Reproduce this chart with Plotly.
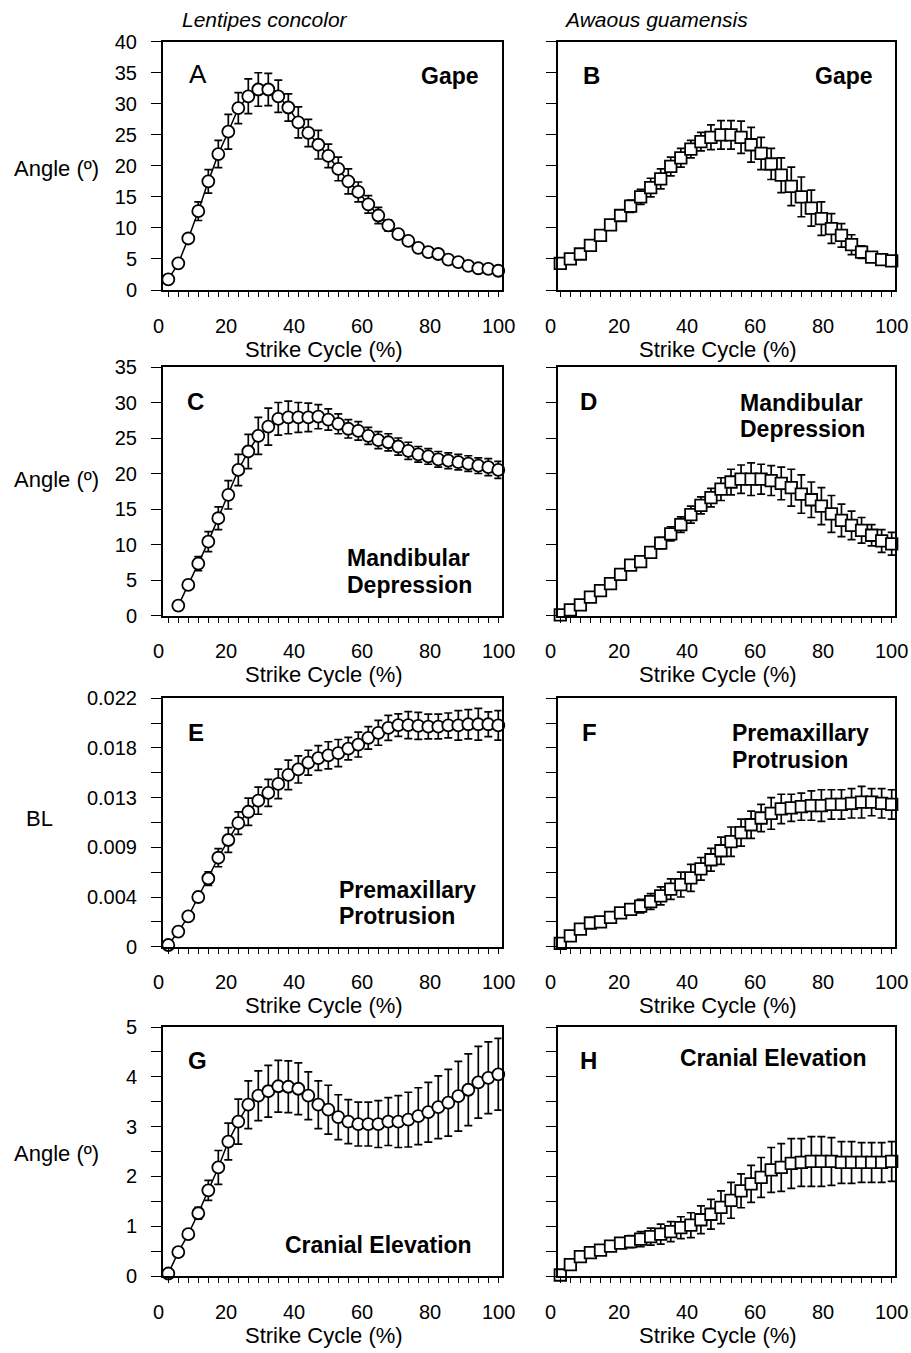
import plotly.graph_objects as go

# ---------------- data ----------------
N = 34
strike_cycle = [round((i + 1) * 100 / N, 2) for i in range(N)]

gape_lentipes = [1.7, 4.3, 8.3, 12.7, 17.5, 21.9, 25.5, 29.3, 31.2, 32.3, 32.3, 31.2, 29.4, 27.0, 25.3,
                 23.4, 21.6, 19.5, 17.5, 15.8, 13.8, 12.0, 10.4, 9.0, 7.9, 6.8, 6.1, 5.8, 4.9, 4.5,
                 3.9, 3.5, 3.4, 3.1]
gape_lentipes_se = [0.3, 0.5, 0.6, 1.5, 1.9, 2.2, 2.8, 2.5, 2.8, 2.7, 2.6, 2.6, 2.2, 2.5, 2.2,
                    2.3, 1.9, 1.9, 2.0, 1.6, 1.4, 1.3, 0.9, 0.7, 0.6, 0.5, 0.4, 0.4, 0.4, 0.4,
                    0.4, 0.4, 0.4, 0.4]
gape_awaous = [4.3, 5.0, 5.8, 7.2, 8.8, 10.5, 12.0, 13.5, 15.0, 16.5, 17.9, 19.9, 21.3, 22.7, 23.9,
               24.6, 25.0, 25.0, 24.6, 23.4, 22.0, 20.3, 18.5, 16.7, 15.0, 13.2, 11.5, 9.9, 8.8, 7.3,
               6.1, 5.3, 4.9, 4.7]
gape_awaous_se = [0.4, 0.4, 0.4, 0.4, 0.4, 0.5, 0.7, 1.0, 1.2, 1.5, 1.6, 1.5, 1.5, 1.4, 1.5,
                  2.0, 2.3, 2.3, 2.6, 2.8, 2.6, 2.5, 2.8, 3.1, 3.2, 2.9, 2.7, 2.4, 1.9, 1.6,
                  1.0, 0.7, 0.5, 0.5]

mand_lentipes = [None, 1.4, 4.3, 7.3, 10.4, 13.7, 17.0, 20.5, 23.1, 25.3, 26.6, 27.7, 27.9, 27.9, 27.9,
                 28.0, 27.6, 27.0, 26.3, 26.0, 25.3, 24.7, 24.4, 23.8, 23.2, 22.7, 22.4, 22.0, 21.8, 21.6,
                 21.4, 21.1, 20.9, 20.5]
mand_lentipes_se = [0.0, 0.4, 0.6, 1.0, 1.4, 1.6, 2.0, 2.2, 2.4, 2.6, 2.6, 2.3, 2.3, 2.1, 2.0,
                    1.7, 1.5, 1.4, 1.3, 1.3, 1.2, 1.2, 1.2, 1.2, 1.2, 1.1, 1.1, 1.1, 1.1, 1.1,
                    1.1, 1.1, 1.2, 1.2]
mand_awaous = [0.1, 0.8, 1.5, 2.6, 3.5, 4.5, 5.8, 7.1, 7.6, 8.9, 10.2, 11.5, 12.8, 14.2, 15.5,
               16.6, 17.8, 18.8, 19.2, 19.2, 19.2, 19.0, 18.6, 18.0, 17.1, 16.3, 15.4, 14.3, 13.4, 12.7,
               12.0, 11.3, 10.5, 10.1]
mand_awaous_se = [0.3, 0.3, 0.3, 0.3, 0.3, 0.3, 0.3, 0.3, 0.5, 0.6, 0.8, 1.0, 1.1, 1.2, 1.2,
                  1.3, 1.6, 1.8, 2.0, 2.3, 2.1, 2.1, 2.3, 2.6, 2.7, 2.5, 2.6, 2.6, 2.3, 2.0,
                  1.8, 1.5, 1.6, 1.6]

premax_lentipes = [0.00015, 0.00134, 0.00268, 0.0044, 0.00604, 0.00788, 0.00945, 0.01094, 0.01195, 0.01293,
                   0.01362, 0.01442, 0.01522, 0.0157, 0.0163, 0.01671, 0.01695, 0.01715, 0.01754, 0.0179,
                   0.0185, 0.01894, 0.01938, 0.01962, 0.01962, 0.01956, 0.0195, 0.0195, 0.0196, 0.0196,
                   0.0197, 0.0197, 0.0197, 0.0196]
premax_lentipes_se = [0.0002, 0.0002, 0.0002, 0.0004, 0.0006, 0.0008, 0.0011, 0.0010, 0.0012, 0.0012,
                      0.0012, 0.0013, 0.0013, 0.0012, 0.0011, 0.0011, 0.0012, 0.0012, 0.0010, 0.0011,
                      0.0010, 0.0011, 0.0011, 0.0010, 0.0012, 0.0012, 0.0011, 0.0011, 0.0011, 0.0013,
                      0.0013, 0.0014, 0.0011, 0.0013]
premax_awaous = [0.0003, 0.00095, 0.00155, 0.0021, 0.0022, 0.0026, 0.0030, 0.0033, 0.0036, 0.0040,
                 0.0045, 0.0051, 0.0055, 0.0061, 0.0069, 0.0077, 0.0085, 0.0093, 0.0101, 0.0108,
                 0.0114, 0.0118, 0.0122, 0.0123, 0.0124, 0.0125, 0.0125, 0.0126, 0.0126, 0.0127,
                 0.0128, 0.0128, 0.0127, 0.0126]
premax_awaous_se = [0.0003, 0.0003, 0.0003, 0.0003, 0.0003, 0.0004, 0.0004, 0.0005, 0.0006, 0.0007,
                    0.0008, 0.0009, 0.0011, 0.0012, 0.0010, 0.0010, 0.0012, 0.0013, 0.0012, 0.0012,
                    0.0012, 0.0014, 0.0013, 0.0012, 0.0012, 0.0013, 0.0014, 0.0013, 0.0013, 0.0013,
                    0.0014, 0.0012, 0.0013, 0.0013]

cranial_lentipes = [0.05, 0.48, 0.84, 1.26, 1.72, 2.18, 2.70, 3.10, 3.44, 3.62, 3.71, 3.81, 3.80, 3.76, 3.62,
                    3.44, 3.34, 3.19, 3.10, 3.05, 3.05, 3.05, 3.10, 3.10, 3.14, 3.21, 3.29, 3.39, 3.48, 3.61,
                    3.74, 3.89, 3.98, 4.05]
cranial_lentipes_se = [0.04, 0.06, 0.08, 0.12, 0.20, 0.34, 0.37, 0.45, 0.48, 0.50, 0.52, 0.52, 0.52, 0.52, 0.48,
                       0.48, 0.49, 0.45, 0.44, 0.44, 0.44, 0.47, 0.48, 0.52, 0.55, 0.57, 0.60, 0.63, 0.67, 0.70,
                       0.72, 0.72, 0.72, 0.72]
cranial_awaous = [0.02, 0.23, 0.39, 0.47, 0.52, 0.60, 0.66, 0.69, 0.74, 0.79, 0.84, 0.89, 0.97, 1.02, 1.13,
                  1.24, 1.38, 1.52, 1.71, 1.85, 1.98, 2.13, 2.18, 2.26, 2.28, 2.30, 2.30, 2.30, 2.28, 2.28,
                  2.28, 2.28, 2.28, 2.30]
cranial_awaous_se = [0.05, 0.06, 0.07, 0.08, 0.09, 0.10, 0.10, 0.12, 0.15, 0.17, 0.20, 0.20, 0.22, 0.25, 0.28,
                     0.30, 0.33, 0.36, 0.34, 0.37, 0.40, 0.45, 0.48, 0.50, 0.48, 0.50, 0.50, 0.48, 0.42, 0.42,
                     0.40, 0.40, 0.40, 0.40]

x_tick_labels = [0, 20, 40, 60, 80, 100]
species = ["Lentipes concolor", "Awaous guamensis"]
panel_letters = ["A", "B", "C", "D", "E", "F", "G", "H"]

# ---------------- layout helpers ----------------
W, H = 911, 1353
FONT = "Liberation Sans, Arial, sans-serif"


def px_x(p):
    return p / W


def px_y(p):
    return 1 - p / H


col_dom = [(163, 501.5), (558.3, 895)]
col_range = [(1.38, 100.94), (2.35, 100.97)]
col_title_x = [324, 718]
row_dom = [(41.7, 290), (367, 615.5), (698.3, 946.7), (1027, 1276)]

row_ticks = [
    ([5 * i for i in range(9)], [str(5 * i) for i in range(9)], (0, 40)),
    ([5 * i for i in range(8)], [str(5 * i) for i in range(8)], (0, 35)),
    ([0.0022 * i for i in range(11)],
     [("0" if i == 0 else f"{0.0022 * i:.3f}") if i % 2 == 0 else "" for i in range(11)], (0, 0.022)),
    ([0.5 * i for i in range(11)], [str(i // 2) if i % 2 == 0 else "" for i in range(11)], (0, 5)),
]

series = [
    (gape_lentipes, gape_lentipes_se), (gape_awaous, gape_awaous_se),
    (mand_lentipes, mand_lentipes_se), (mand_awaous, mand_awaous_se),
    (premax_lentipes, premax_lentipes_se), (premax_awaous, premax_awaous_se),
    (cranial_lentipes, cranial_lentipes_se), (cranial_awaous, cranial_awaous_se),
]

fig = go.Figure()
layout = {}
annotations = []


def ann(text, x, y, size, xanchor="center", xref="paper"):
    annotations.append(dict(text=text, x=(px_x(x) if xref == "paper" else x), y=px_y(y),
                            xref=xref, yref="paper",
                            xanchor=xanchor, yanchor="middle", showarrow=False,
                            font=dict(family=FONT, size=size, color="black")))


for k, (vals, se) in enumerate(series):
    r, c = divmod(k, 2)
    idx = k + 1
    sfx = "" if idx == 1 else str(idx)
    circle = c == 0
    fig.add_trace(go.Scatter(
        x=strike_cycle, y=vals,
        xaxis="x" + sfx, yaxis="y" + sfx,
        mode="lines+markers",
        line=dict(color="black", width=1.5),
        marker=dict(symbol="circle" if circle else "square",
                    size=12 if circle else 11.5,
                    color="white", line=dict(color="black", width=1.8)),
        error_y=dict(type="data", array=se, visible=True, color="black",
                     thickness=1.7, width=4),
        showlegend=False, cliponaxis=False,
    ))
    tv, tt, yr = row_ticks[r]
    x0, x1 = col_range[c]
    layout["xaxis" + sfx] = dict(
        domain=[px_x(col_dom[c][0]), px_x(col_dom[c][1])], range=[x0, x1],
        anchor="y" + sfx, showgrid=False, zeroline=False, automargin=False,
        showline=True, linecolor="black", linewidth=2, mirror=True,
        tickmode="array", tickvals=strike_cycle, ticks="outside", ticklen=5,
        tickwidth=1.3, tickcolor="black", showticklabels=False,
    )
    layout["yaxis" + sfx] = dict(
        domain=[px_y(row_dom[r][1]), px_y(row_dom[r][0])], range=list(yr),
        anchor="x" + sfx, showgrid=False, zeroline=False, automargin=False,
        showline=True, linecolor="black", linewidth=2, mirror=True,
        tickmode="array", tickvals=tv, ticktext=tt, ticks="outside", ticklen=10,
        tickwidth=1.3, tickcolor="black", showticklabels=(c == 0),
        tickfont=dict(family=FONT, size=20, color="black"), ticklabelstandoff=10,
    )
    # percentage labels at their positions along this panel's x axis
    bottom = row_dom[r][1]
    for v in x_tick_labels:
        ann(str(v), (v - x0) / (x1 - x0), bottom + 35.5, 20, xref="x" + sfx + " domain")
    ann("Strike Cycle (%)", col_title_x[c], bottom + 59, 22)

ann("<i>" + species[0] + "</i>", 265, 20, 21)
ann("<i>" + species[1] + "</i>", 656, 20, 21)

letter_pos = [(197.5, 73.5), (591, 75.5), (195, 401.5), (588.5, 401.5),
              (196, 732.5), (589, 732.5), (197, 1060.5), (588.5, 1060.5)]
for i, (L, (lx, ly)) in enumerate(zip(panel_letters, letter_pos)):
    if i == 0:
        ann(L, lx, ly, 26)
    else:
        ann("<b>" + L + "</b>", lx, ly, 24)

ann("<b>Gape</b>", 450, 75.8, 23)
ann("<b>Gape</b>", 844, 75.8, 23)
ann("<b>Mandibular</b>", 345, 557.5, 23, "left")
ann("<b>Depression</b>", 345, 584.5, 23, "left")
ann("<b>Mandibular</b>", 738, 402.5, 23, "left")
ann("<b>Depression</b>", 738, 429.5, 23, "left")
ann("<b>Premaxillary</b>", 337, 889.5, 23, "left")
ann("<b>Protrusion</b>", 337, 915.5, 23, "left")
ann("<b>Premaxillary</b>", 730, 732.5, 23, "left")
ann("<b>Protrusion</b>", 730, 759.5, 23, "left")
ann("<b>Cranial Elevation</b>", 283, 1245, 23, "left")
ann("<b>Cranial Elevation</b>", 678, 1057.5, 23, "left")

ann("Angle (º)", 56, 169, 22)
ann("Angle (º)", 56, 480, 22)
ann("BL", 39, 818, 22)
ann("Angle (º)", 56, 1153, 22)

fig.update_layout(
    width=W, height=H, margin=dict(l=0, r=0, t=0, b=0, pad=0, autoexpand=False),
    paper_bgcolor="white", plot_bgcolor="rgba(0,0,0,0)",
    font=dict(family=FONT, color="black"),
    annotations=annotations, **layout,
)

fig.write_html("out.html", config={"displayModeBar": False},
               post_script="document.body.style.margin='0px';document.body.style.overflow='hidden';")
